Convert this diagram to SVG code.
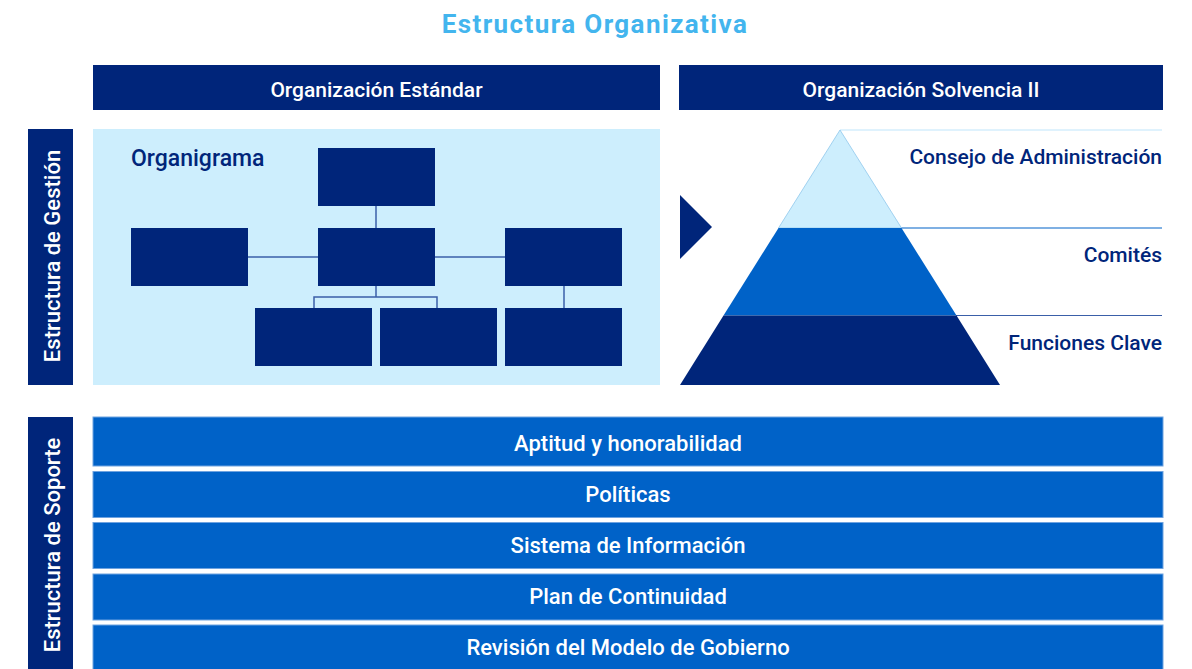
<svg xmlns="http://www.w3.org/2000/svg" width="1192" height="669" viewBox="0 0 1192 669">
<style>
.navy{fill:#00257a}
.blue{fill:#0062c8}
.lt{fill:#cdeefd}
.wt{font-family:Roboto,"Noto Sans",sans-serif;font-weight:500;fill:#ffffff}
.nt{font-family:Roboto,"Noto Sans",sans-serif;font-weight:500;fill:#00257a}
.bar{fill:#0062c8;stroke:#6fa3e0;stroke-width:1}
.bt{font-size:22px}
.conn{stroke:#3a5fa8;stroke-width:1.5;fill:none}
</style>
<rect width="1192" height="669" fill="#ffffff"/>
<text x="595" y="33" text-anchor="middle" font-family="Roboto,'Noto Sans',sans-serif" font-weight="700" font-size="26" fill="#43b5ee" letter-spacing="1.4">Estructura Organizativa</text>

<g id="header-std">
<rect class="navy" x="93" y="65" width="567" height="45"/>
<text class="wt" x="376.5" y="96.5" text-anchor="middle" font-size="21">Organización Estándar</text>
</g>
<g id="header-s2">
<rect class="navy" x="679" y="65" width="484" height="45"/>
<text class="wt" x="921" y="96.5" text-anchor="middle" font-size="21">Organización Solvencia II</text>
</g>

<g id="side-gestion">
<rect class="navy" x="28" y="129" width="45" height="256"/>
<text class="wt" transform="translate(59.5,256) rotate(-90)" text-anchor="middle" font-size="22" font-weight="400">Estructura de Gestión</text>
</g>
<g id="side-soporte">
<rect class="navy" x="28" y="417" width="45" height="260"/>
<text class="wt" transform="translate(59.5,545) rotate(-90)" text-anchor="middle" font-size="22" font-weight="400">Estructura de Soporte</text>
</g>

<g id="organigrama">
<rect class="lt" x="93" y="129" width="567" height="256"/>
<text class="nt" x="131" y="166" font-size="23">Organigrama</text>
</g>

<g id="connectors">
<line class="conn" x1="376" y1="206" x2="376" y2="228"/>
<line class="conn" x1="248" y1="257" x2="318" y2="257"/>
<line class="conn" x1="435" y1="257" x2="505" y2="257"/>
<polyline class="conn" points="314,308 314,297 437,297 437,308"/>
<line class="conn" x1="376" y1="286" x2="376" y2="297"/>
<line class="conn" x1="564" y1="286" x2="564" y2="308"/>
</g>

<g id="org-top"><rect class="navy" x="318" y="148" width="117" height="58"/></g>
<g id="org-mid-left"><rect class="navy" x="131" y="228" width="117" height="58"/></g>
<g id="org-mid-center"><rect class="navy" x="318" y="228" width="117" height="58"/></g>
<g id="org-mid-right"><rect class="navy" x="505" y="228" width="117" height="58"/></g>
<g id="org-bot-1"><rect class="navy" x="255" y="308" width="117" height="58"/></g>
<g id="org-bot-2"><rect class="navy" x="380" y="308" width="117" height="58"/></g>
<g id="org-bot-3"><rect class="navy" x="505" y="308" width="117" height="58"/></g>

<g id="arrow">
<polygon class="navy" points="680,195 712,227 680,259"/>
</g>

<g id="pyramid">
<line x1="840" y1="130" x2="1162" y2="130" stroke="#bfe6fb" stroke-width="1.2"/>
<line x1="900" y1="228" x2="1162" y2="228" stroke="#0062c8" stroke-width="1.2"/>
<line x1="956" y1="315.5" x2="1162" y2="315.5" stroke="#3a5fa8" stroke-width="1.2"/>
<polygon points="840,130 901.5,228 778.5,228" fill="#cdeefd" stroke="#8fc8ec" stroke-width="0.8"/>
<polygon class="blue" points="778.5,228 901.5,228 956.5,315.5 723.5,315.5"/>
<polygon class="navy" points="723.5,315.5 956.5,315.5 1000,385 680,385"/>
</g>
<g id="lvl-consejo"><text class="nt" x="1162" y="164" text-anchor="end" font-size="21">Consejo de Administración</text></g>
<g id="lvl-comites"><text class="nt" x="1162" y="262" text-anchor="end" font-size="21">Comités</text></g>
<g id="lvl-funciones"><text class="nt" x="1162" y="350" text-anchor="end" font-size="21">Funciones Clave</text></g>

<g id="bar-aptitud"><rect class="bar" x="93" y="417" width="1070" height="49"/><text class="wt bt" x="628" y="451" text-anchor="middle">Aptitud y honorabilidad</text></g>
<g id="bar-politicas"><rect class="bar" x="93" y="471.5" width="1070" height="46"/><text class="wt bt" x="628" y="502" text-anchor="middle">Políticas</text></g>
<g id="bar-sistema"><rect class="bar" x="93" y="522.5" width="1070" height="46"/><text class="wt bt" x="628" y="553" text-anchor="middle">Sistema de Información</text></g>
<g id="bar-plan"><rect class="bar" x="93" y="574" width="1070" height="46"/><text class="wt bt" x="628" y="604" text-anchor="middle">Plan de Continuidad</text></g>
<g id="bar-revision"><rect class="bar" x="93" y="625" width="1070" height="50"/><text class="wt bt" x="628" y="655" text-anchor="middle">Revisión del Modelo de Gobierno</text></g>
</svg>
